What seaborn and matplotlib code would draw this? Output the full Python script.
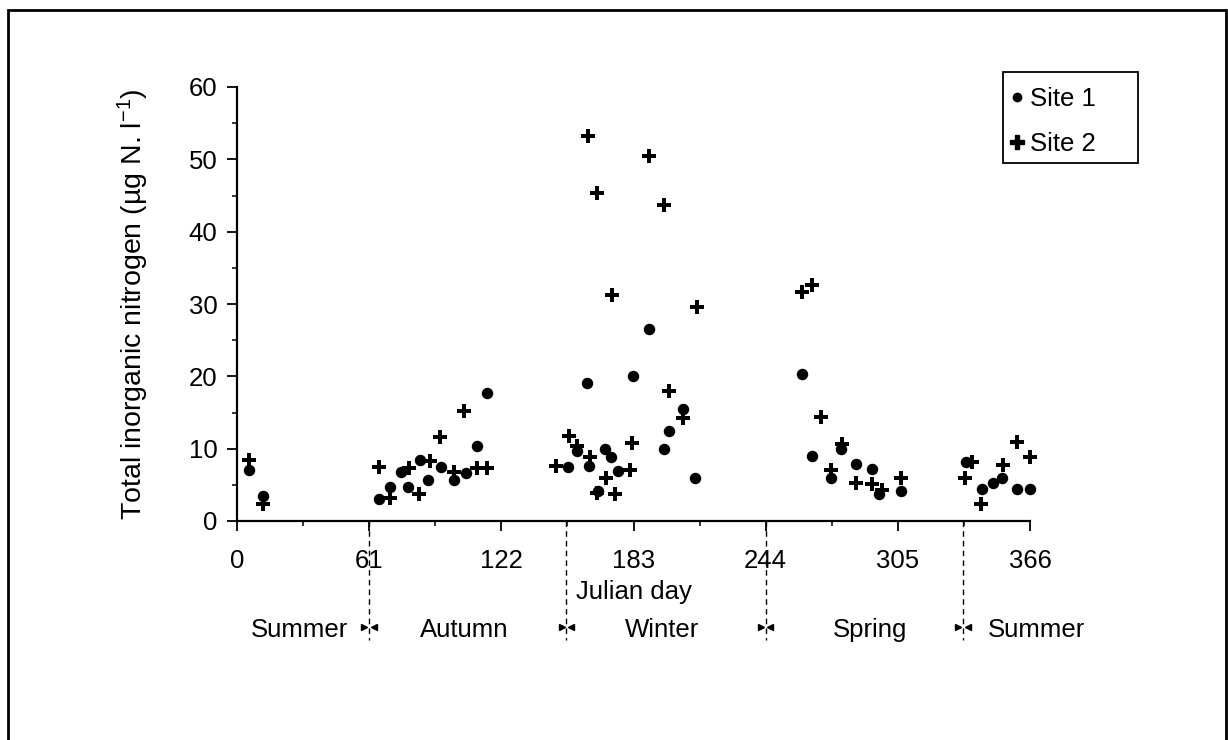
import matplotlib
matplotlib.use("Agg")
import numpy as np
import pandas as pd
import matplotlib.pyplot as plt
import seaborn as sns
from matplotlib.transforms import blended_transform_factory
from matplotlib.lines import Line2D
from matplotlib.patches import Rectangle

# ---------------- data ----------------
site1_day = [5.5, 11.8, 65.7, 70.6, 75.7, 78.8, 84.5, 88.3, 94.2, 100.3, 105.5, 110.6, 115.2,
             152.9, 156.8, 161.4, 162.6, 166.8, 169.8, 172.5, 175.7, 182.6, 190.0, 196.9, 199.5,
             205.7, 211.2, 260.6, 265.2, 274.2, 278.6, 285.5, 293.1, 296.3, 306.5,
             336.5, 343.7, 349.0, 352.9, 359.8, 366.0]
site1_val = [7.1, 3.5, 3.0, 4.7, 6.8, 4.7, 8.4, 5.6, 7.4, 5.6, 6.7, 10.3, 17.7,
             7.5, 9.7, 19.1, 7.6, 4.1, 9.9, 8.9, 6.9, 20.1, 26.5, 9.9, 12.4,
             15.5, 5.9, 20.3, 9.0, 5.9, 10.0, 7.9, 7.2, 3.8, 4.1,
             8.2, 4.4, 5.3, 6.0, 4.4, 4.4]

site2_day = [5.5, 11.8, 65.7, 70.6, 79.4, 84.2, 89.0, 93.7, 100.0, 104.8, 110.6, 115.2,
             147.2, 153.2, 157.1, 161.8, 162.9, 166.0, 166.3, 170.3, 173.1, 174.5, 181.4,
             182.2, 190.3, 197.2, 199.2, 205.7, 212.3,
             260.6, 265.5, 269.4, 274.0, 279.1, 285.7, 292.9, 297.5, 306.3,
             336.0, 339.1, 343.2, 353.7, 359.8, 366.0]
site2_val = [8.4, 2.4, 7.4, 3.2, 7.3, 3.8, 8.3, 11.6, 6.8, 15.2, 7.3, 7.3,
             7.6, 11.7, 10.4, 53.2, 8.9, 45.4, 3.9, 5.9, 31.3, 3.7, 7.0,
             10.8, 50.4, 43.7, 18.0, 14.3, 29.6,
             31.6, 32.6, 14.4, 7.1, 10.6, 5.2, 5.1, 4.3, 6.0,
             5.9, 8.1, 2.4, 7.7, 10.9, 8.8]

x_ticks = [0, 61, 122, 183, 244, 305, 366]
y_ticks = [0, 10, 20, 30, 40, 50, 60]
season_bounds = [61, 152, 244, 335]
season_names = ["Summer", "Autumn", "Winter", "Spring", "Summer"]
series_names = ["Site 1", "Site 2"]

# ---------------- layout ----------------
season_label_x = [29, 105, 196, 292, 369]
W, H = 1228, 740

sns.set_theme(style="ticks")
plt.rcParams["font.family"] = ["Liberation Sans", "DejaVu Sans"]
plt.rcParams["mathtext.default"] = "regular"
plt.rcParams["text.color"] = "black"
plt.rcParams["axes.labelcolor"] = "black"
FS = 18.5

df1 = pd.DataFrame({"day": site1_day, "value": site1_val})
df2 = pd.DataFrame({"day": site2_day, "value": site2_val})

fig = plt.figure(figsize=(W / 100, H / 100), dpi=100)
ax = fig.add_axes([237 / W, 1 - 521 / H, (1030 - 237) / W, (521 - 87) / H])

sns.scatterplot(data=df1, x="day", y="value", marker="o", color="black", s=68,
                linewidth=0, ax=ax, legend=False, clip_on=False, zorder=3)
sns.scatterplot(data=df2, x="day", y="value", marker="P", color="black", s=115,
                linewidth=0, ax=ax, legend=False, clip_on=False, zorder=3)

ax.set_xlim(0, 366)
ax.set_ylim(0, 60)
ax.set_xticks(x_ticks)
ax.set_yticks(y_ticks)
ax.set_xticks(np.arange(0, 367, 30.5), minor=True)
ax.set_yticks(np.arange(0, 61, 5), minor=True)
ax.tick_params(axis="both", which="major", direction="out", length=7, width=1.3,
               labelsize=FS, colors="black")
ax.tick_params(axis="both", which="minor", direction="out", length=3.5, width=1.1,
               colors="black")
ax.tick_params(axis="x", which="major", pad=13)
ax.tick_params(axis="y", which="major", pad=7)
for s in ["top", "right"]:
    ax.spines[s].set_visible(False)
for s in ["left", "bottom"]:
    ax.spines[s].set_linewidth(1.6)
    ax.spines[s].set_color("black")

ax.set_xlabel("Julian day", fontsize=FS, labelpad=5)
ax.set_ylabel("Total inorganic nitrogen (µg N. l$^{-1}$)", fontsize=20.5, labelpad=27)

# season boundaries
trans = blended_transform_factory(ax.transData, ax.transAxes)
y_lo = -(640 - 521) / (521 - 87)
y_mark = -(627 - 521) / (521 - 87)
for b in season_bounds:
    ax.plot([b, b], [0, y_lo], transform=trans, color="black", lw=1.0,
            ls=(0, (4, 3)), clip_on=False, zorder=2)
    ax.plot([b - 2.2], [y_mark], transform=trans, marker=">", color="black",
            markersize=4.5, clip_on=False, ls="")
    ax.plot([b + 2.2], [y_mark], transform=trans, marker="<", color="black",
            markersize=4.5, clip_on=False, ls="")
for name, xpos in zip(season_names, season_label_x):
    ax.text(xpos, y_mark - 0.006, name, transform=trans, ha="center", va="center",
            fontsize=FS, clip_on=False, color="black")

# legend (frameless) with a separate box
handles = [Line2D([], [], marker="o", ls="", color="black", markersize=6),
           Line2D([], [], marker="P", ls="", color="black", markersize=9.5)]
leg = fig.legend(handles, series_names, loc="upper left",
                 bbox_to_anchor=(1003 / W, 1 - 82 / H), frameon=False,
                 fontsize=FS, handlelength=0.7, handletextpad=0.15,
                 borderpad=0.2, labelspacing=0.8, borderaxespad=0)
fig.add_artist(Rectangle((1003 / W, 1 - 163 / H), (1138 - 1003) / W, (163 - 72) / H,
                         transform=fig.transFigure, fill=False, edgecolor="black",
                         linewidth=1.3))

# outer frame
fig.add_artist(Rectangle((8 / W, -0.05), (1226 - 8) / W, 1 - 10 / H + 0.05,
                         transform=fig.transFigure, fill=False, edgecolor="black",
                         linewidth=2.0, clip_on=False))

fig.savefig("out.png", dpi=100)
